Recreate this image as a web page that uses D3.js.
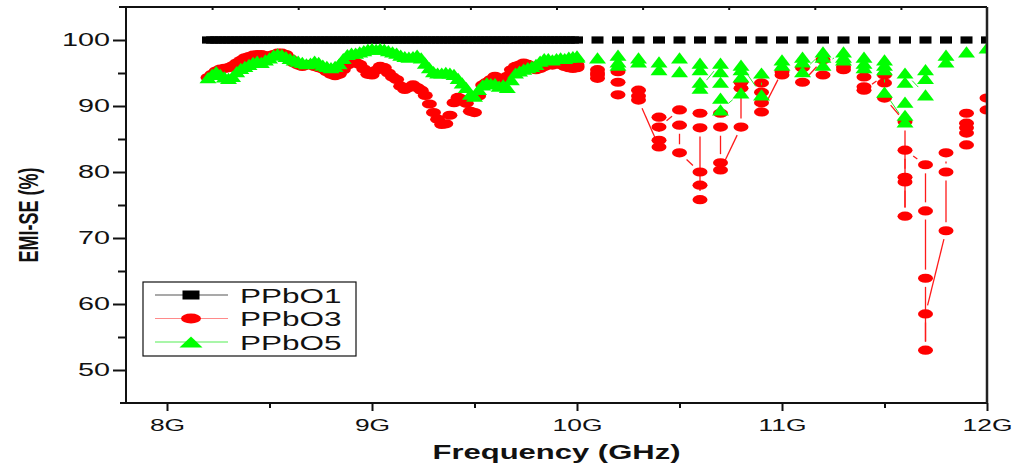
<!DOCTYPE html>
<html>
<head>
<meta charset="utf-8">
<script src="https://cdn.jsdelivr.net/npm/d3@7"></script>
<style>
body { margin: 0; background: #fff; }
svg { display: block; font-family: "Liberation Sans", Arial, sans-serif; }
</style>
</head>
<body>
<svg id="chart" width="1019" height="470"></svg>
<script>
// frequency sweep below 10 GHz (GHz)
const lowFreq = [
    8.20, 8.22, 8.24, 8.26, 8.28, 8.30, 8.32, 8.34, 8.36, 8.38,
    8.40, 8.42, 8.44, 8.46, 8.48, 8.50, 8.52, 8.54, 8.56, 8.58,
    8.60, 8.62, 8.64, 8.66, 8.68, 8.70, 8.72, 8.74, 8.76, 8.78,
    8.80, 8.82, 8.84, 8.86, 8.88, 8.90, 8.92, 8.94, 8.96, 8.98,
    9.00, 9.02, 9.04, 9.06, 9.08, 9.10, 9.12, 9.14, 9.16, 9.18,
    9.20, 9.22, 9.24, 9.26, 9.28, 9.30, 9.32, 9.34, 9.36, 9.38,
    9.40, 9.42, 9.44, 9.46, 9.48, 9.50, 9.52, 9.54, 9.56, 9.58,
    9.60, 9.62, 9.64, 9.66, 9.68, 9.70, 9.72, 9.74, 9.76, 9.78,
    9.80, 9.82, 9.84, 9.86, 9.88, 9.90, 9.92, 9.94, 9.96, 9.98
];

const ppbo1Low = [
    100, 100, 100, 100, 100, 100, 100, 100, 100, 100,
    100, 100, 100, 100, 100, 100, 100, 100, 100, 100,
    100, 100, 100, 100, 100, 100, 100, 100, 100, 100,
    100, 100, 100, 100, 100, 100, 100, 100, 100, 100,
    100, 100, 100, 100, 100, 100, 100, 100, 100, 100,
    100, 100, 100, 100, 100, 100, 100, 100, 100, 100,
    100, 100, 100, 100, 100, 100, 100, 100, 100, 100,
    100, 100, 100, 100, 100, 100, 100, 100, 100, 100,
    100, 100, 100, 100, 100, 100, 100, 100, 100, 100
];

const ppbo3Low = [
    94.3, 94.8, 95.3, 95.6, 95.7, 95.8, 96.1, 96.5, 96.9, 97.3,
    97.5, 97.7, 97.8, 97.8, 97.6, 97.6, 97.8, 98.0, 98.0, 97.8,
    97.2, 96.5, 96.2, 96.0, 96.2, 96.3, 96.0, 95.8, 95.6, 95.2,
    94.8, 94.6, 94.8, 95.5, 96.2, 96.5, 96.6, 96.3, 95.6, 94.8,
    94.7, 95.4, 96.0, 95.8, 95.0, 94.4, 94.0, 93.0, 92.5, 92.8,
    93.2, 92.8, 92.4, 91.6, 90.3, 89.0, 88.0, 87.2, 87.3, 88.6,
    90.5, 91.3, 91.0, 90.4, 89.2, 89.0, 91.5, 93.2, 93.6, 94.0,
    94.5, 94.2, 93.8, 94.5, 95.5, 96.0, 96.2, 96.5, 96.3, 95.8,
    95.5, 95.7, 96.0, 96.3, 96.2, 96.4, 96.3, 96.0, 95.8, 95.7
];

const ppbo5Low = [
    94.3, 94.8, 95.2, 94.8, 94.4, 94.2, 94.5, 95.2, 95.7, 96.0,
    96.3, 96.6, 96.8, 96.6, 97.0, 97.3, 97.7, 97.9, 97.8, 97.5,
    97.2, 97.0, 96.8, 96.6, 96.4, 96.5, 96.8, 96.6, 96.2, 96.0,
    95.8, 96.0, 96.4, 97.2, 97.8, 98.0, 98.0, 98.2, 98.4, 98.6,
    98.7, 98.6, 98.7, 98.6, 98.4, 98.2, 98.0, 97.7, 97.5, 97.4,
    97.5, 97.7, 97.3, 96.5, 95.8, 95.2, 95.0, 95.0, 95.1, 95.0,
    94.8, 94.2, 93.5, 92.8, 91.8, 91.5, 92.5, 93.2, 93.5, 93.4,
    93.4, 93.0, 93.2, 92.8, 94.0, 95.0, 95.3, 95.6, 95.8, 96.0,
    96.3, 96.8, 97.2, 97.2, 97.0, 97.2, 97.3, 97.2, 97.4, 97.5
];

// above 10 GHz the frequencies are stored to 0.1 GHz, so points stack in columns
const colFreq = [10.0, 10.1, 10.2, 10.3, 10.4, 10.5, 10.6, 10.7, 10.8, 10.9,
                 11.0, 11.1, 11.2, 11.3, 11.4, 11.5, 11.6, 11.7, 11.8, 11.9, 12.0];

const ppbo1Cols = [100, 100, 100, 100, 100, 100, 100, 100, 100, 100,
                   100, 100, 100, 100, 100, 100, 100, 100, 100, 100, 100];

const ppbo3Cols = [
    [96.0, 95.8, 96.2],
    [95.5, 94.7, 94.2, 95.0],
    [95.2, 93.6, 91.7],
    [92.4, 91.5, 90.9],
    [83.8, 84.8, 88.3, 86.8],
    [89.4, 87.1, 82.9],
    [80.0, 78.0, 75.8, 86.7, 88.9],
    [88.9, 86.8, 81.4, 80.3],
    [86.8, 92.7, 93.6],
    [93.5, 92.1, 90.5, 89.1],
    [95.2, 94.7],
    [95.8, 93.6],
    [97.0, 94.7],
    [95.9, 95.5],
    [94.4, 92.9, 92.4],
    [94.7, 93.5, 91.2],
    [87.6, 79.2, 78.5, 73.3, 83.3],
    [81.1, 74.1, 63.9, 53.0, 58.5],
    [71.1, 80.0, 82.9],
    [84.1, 85.9, 86.7, 87.4, 88.9],
    [89.4, 91.2]
];

const ppbo5Cols = [
    [97.4, 97.6],
    [97.3],
    [97.7, 96.7, 96.2],
    [97.3, 96.7],
    [96.7, 95.5],
    [97.3, 95.2],
    [96.5, 95.5, 93.6, 92.7],
    [96.5, 95.2, 93.6, 91.2, 89.4],
    [92.0, 94.4, 95.5, 96.2],
    [91.7, 95.0],
    [96.2, 97.0],
    [97.4, 96.7, 95.2],
    [98.2, 97.4, 96.2],
    [98.2, 97.4, 97.0],
    [97.4, 96.5, 95.8],
    [97.0, 96.2, 95.5, 92.1],
    [87.6, 88.6, 90.6, 93.6, 95.0],
    [91.7, 94.2, 95.5],
    [96.7, 97.7],
    [98.2],
    [98.8]
];

const seriesNames = ["PPbO1", "PPbO3", "PPbO5"];
const xTicks = [8, 9, 10, 11, 12];
const xMinor = [8.5, 9.5, 10.5, 11.5];
const topTicks = [8.22, 8.64, 9.06, 9.48, 9.90, 10.32, 10.74, 11.16, 11.58];
const yTicks = [50, 60, 70, 80, 90, 100];
const yMinor = [55, 65, 75, 85, 95];

const SX = 1.6;   // the original figure is stretched sideways
const GAP = 4;    // line gap to symbol

const svg = d3.select("#chart");
const x = d3.scaleLinear().domain([7.8, 12]).range([126, 987]);
const y = d3.scaleLinear().domain([45, 105]).range([403, 7]);
const [x0, x1] = x.range();
const [yb, yt] = y.range();

svg.append("defs").append("clipPath").attr("id", "plot")
    .append("rect")
    .attr("x", x0).attr("y", yt)
    .attr("width", x1 - x0).attr("height", yb - yt);

function buildPoints(lowVals, cols) {
    const pts = lowFreq.map((f, i) => ({ f: f, v: lowVals[i] }));
    colFreq.forEach((f, i) => {
        [].concat(cols[i]).forEach(v => pts.push({ f: f, v: v }));
    });
    return pts;
}

const series = [
    { name: seriesNames[0], pts: buildPoints(ppbo1Low, ppbo1Cols), fill: "#000", line: "#000", lw: 1, shape: "square", hw: 6, hh: 3.6 },
    { name: seriesNames[1], pts: buildPoints(ppbo3Low, ppbo3Cols), fill: "#ff0000", line: "#ff1a1a", lw: 1.3, shape: "circle", hw: 7.5, hh: 4.6 },
    { name: seriesNames[2], pts: buildPoints(ppbo5Low, ppbo5Cols), fill: "#00ff00", line: "#22ee22", lw: 1, shape: "triangle", hw: 8.5, hh: 5.6 }
];

function addSymbol(sel, s, w, h) {
    if (s.shape === "square") {
        sel.append("rect").attr("x", -w).attr("y", -h).attr("width", 2 * w).attr("height", 2 * h).attr("fill", s.fill);
    } else if (s.shape === "circle") {
        sel.append("ellipse").attr("rx", w).attr("ry", h).attr("fill", s.fill);
    } else {
        sel.append("path").attr("d", `M0,${-h}L${w},${h}L${-w},${h}Z`).attr("fill", s.fill);
    }
}

series.forEach(s => {
    const g = svg.append("g").attr("clip-path", "url(#plot)");

    // connecting line, broken around each symbol
    const segs = [];
    for (let i = 1; i < s.pts.length; i++) {
        const ax = x(s.pts[i - 1].f), ay = y(s.pts[i - 1].v);
        const bx = x(s.pts[i].f), by = y(s.pts[i].v);
        const dx = bx - ax, dy = by - ay, len = Math.hypot(dx, dy);
        if (len === 0) continue;
        const ux = dx / len, uy = dy / len;
        const r = 1 / Math.sqrt((ux / s.hw) ** 2 + (uy / s.hh) ** 2) + GAP;
        if (len - 2 * r < 1) continue;
        segs.push([ax + ux * r, ay + uy * r, bx - ux * r, by - uy * r]);
    }
    g.selectAll("line.seg")
        .data(segs)
        .enter().append("line")
        .attr("class", "seg")
        .attr("x1", d => d[0]).attr("y1", d => d[1])
        .attr("x2", d => d[2]).attr("y2", d => d[3])
        .attr("stroke", s.line)
        .attr("stroke-width", s.lw);

    const m = g.selectAll("g.mark")
        .data(s.pts)
        .enter().append("g")
        .attr("class", "mark")
        .attr("transform", d => `translate(${x(d.f)},${y(d.v)})`);
    addSymbol(m, s, s.hw, s.hh);
});

// axes
const axisColor = "#111";

const xAxis = svg.append("g").attr("transform", `translate(0,${yb})`)
    .call(d3.axisBottom(x).tickValues(xTicks).tickFormat(d => d + "G").tickSize(8).tickPadding(8));
xAxis.select(".domain").remove();
xAxis.selectAll("line").attr("stroke", axisColor).attr("stroke-width", 2);
xAxis.selectAll("text")
    .attr("font-size", 16.5)
    .attr("fill", "#111")
    .attr("font-family", "Liberation Sans, Arial, sans-serif")
    .attr("transform", `scale(${SX},1)`);

const xMinorAxis = svg.append("g").attr("transform", `translate(0,${yb})`)
    .call(d3.axisBottom(x).tickValues(xMinor).tickFormat("").tickSize(5));
xMinorAxis.select(".domain").remove();
xMinorAxis.selectAll("line").attr("stroke", axisColor).attr("stroke-width", 2);

const topAxis = svg.append("g").attr("transform", `translate(0,${yt})`)
    .call(d3.axisBottom(x).tickValues(topTicks).tickFormat("").tickSize(3));
topAxis.select(".domain").remove();
topAxis.selectAll("line").attr("stroke", axisColor).attr("stroke-width", 2);

const yAxis = svg.append("g").attr("transform", `translate(${x0},0)`)
    .call(d3.axisLeft(y).tickValues(yTicks).tickSize(13).tickPadding(3));
yAxis.select(".domain").remove();
yAxis.selectAll("line").attr("stroke", axisColor).attr("stroke-width", 2);
yAxis.selectAll("text")
    .attr("font-size", 18)
    .attr("fill", "#111")
    .attr("font-family", "Liberation Sans, Arial, sans-serif")
    .attr("x", -16 / SX)
    .attr("transform", `scale(${SX},1)`);

const yMinorAxis = svg.append("g").attr("transform", `translate(${x0},0)`)
    .call(d3.axisLeft(y).tickValues(yMinor).tickFormat("").tickSize(8));
yMinorAxis.select(".domain").remove();
yMinorAxis.selectAll("line").attr("stroke", axisColor).attr("stroke-width", 2);

// frame
const frame = svg.append("g").attr("stroke", axisColor).attr("stroke-width", 2);
frame.append("line").attr("x1", x0).attr("x2", x0).attr("y1", yt).attr("y2", yb);
frame.append("line").attr("x1", x0 - 6).attr("x2", x1).attr("y1", yb).attr("y2", yb);
frame.append("line").attr("x1", x0 - 7).attr("x2", x1).attr("y1", yt).attr("y2", yt);
frame.append("line").attr("x1", x1).attr("x2", x1).attr("y1", yt).attr("y2", yb)
    .attr("stroke", "#222").attr("stroke-width", 2.5);

// axis titles
svg.append("text")
    .attr("transform", `translate(${(x0 + x1) / 2},459) scale(1.55,1)`)
    .attr("text-anchor", "middle")
    .attr("font-size", 20)
    .attr("font-weight", "bold")
    .attr("fill", "#111")
    .text("Frequency (GHz)");

svg.append("text")
    .attr("transform", "translate(28,215) rotate(-90) scale(1,1.55)")
    .attr("text-anchor", "middle")
    .attr("dy", "0.35em")
    .attr("font-size", 18)
    .attr("font-weight", "bold")
    .attr("fill", "#111")
    .text("EMI-SE (%)");

// legend
const legend = svg.append("g").attr("transform", "translate(143,282)");
legend.append("rect")
    .attr("width", 213).attr("height", 74)
    .attr("fill", "#fff").attr("stroke", "#111").attr("stroke-width", 1.2);

const legendLine = ["#555", "#ff8a8a", "#55ee55"];
const legendSize = [[8.5, 4.5], [10, 5], [11.5, 5.5]];
series.forEach((s, i) => {
    const row = legend.append("g").attr("transform", `translate(0,${13 + i * 23.5})`);
    row.append("line").attr("x1", 12).attr("x2", 85).attr("stroke", legendLine[i]).attr("stroke-width", 1.2);
    const sym = row.append("g").attr("transform", "translate(48,0)");
    addSymbol(sym, s, legendSize[i][0], legendSize[i][1]);
    row.append("text")
        .attr("transform", `translate(97,7.5) scale(1.5,1)`)
        .attr("font-size", 21)
        .attr("fill", "#111")
        .text(s.name);
});
</script>
</body>
</html>
